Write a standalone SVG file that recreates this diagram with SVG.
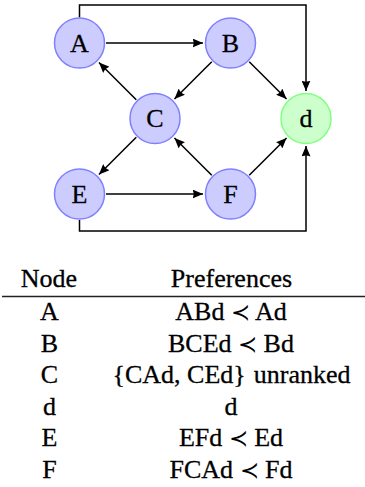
<svg xmlns="http://www.w3.org/2000/svg" width="365" height="487" viewBox="0 0 365 487">
<style>
.node{fill:#ccccff;stroke:#8080ff;stroke-width:1.5}
.dest{fill:#ccffcc;stroke:#80ff80;stroke-width:1.5}
.lbl{font-family:'Liberation Serif','Times New Roman',serif;font-size:26px;text-anchor:middle;fill:#000;stroke:#000;stroke-width:0.3}
.edge{fill:none;stroke:#000;stroke-width:1.5;marker-end:url(#arr)}
.tx{font-family:'Liberation Serif','Times New Roman',serif;font-size:26px;text-anchor:middle;fill:#000;stroke:#000;stroke-width:0.3}
.prec{font-family:'DejaVu Serif',serif;font-size:23px;stroke-width:0}
</style>
<defs>
<marker id="arr" markerUnits="userSpaceOnUse" markerWidth="11" markerHeight="9" refX="10.5" refY="4.5" orient="auto">
<path d="M0,0 L10.5,4.5 L0,9 Q2.2,4.5 0,0 z" fill="#000"/>
</marker>
</defs>
<g id="connectors">
<path class="edge" d="M106,43 L203,43"/>
<path class="edge" d="M106,194 L203,194"/>
<path class="edge" d="M211.76,61.74 L174.45,99.05"/>
<path class="edge" d="M249.24,61.74 L286.55,99.05"/>
<path class="edge" d="M136.26,99.76 L98.95,62.45"/>
<path class="edge" d="M136.26,137.24 L98.95,174.55"/>
<path class="edge" d="M211.76,175.26 L174.45,137.95"/>
<path class="edge" d="M249.24,175.26 L286.55,137.95"/>
<path class="edge" d="M79.5,17.5 V5 H306 V91"/>
<path class="edge" d="M79.5,220 V231 H306 V146"/>
</g>
<g id="node-A"><circle class="node" cx="79.5" cy="43" r="25"/><text class="lbl" x="79.5" y="51.7">A</text></g>
<g id="node-B"><circle class="node" cx="230.5" cy="43" r="25"/><text class="lbl" x="230.5" y="51.7">B</text></g>
<g id="node-C"><circle class="node" cx="155" cy="118.5" r="25"/><text class="lbl" x="155" y="127.2">C</text></g>
<g id="node-d"><circle class="dest" cx="306" cy="118.5" r="25"/><text class="lbl" x="306" y="127.4">d</text></g>
<g id="node-E"><circle class="node" cx="79.5" cy="194" r="25"/><text class="lbl" x="79.5" y="202.7">E</text></g>
<g id="node-F"><circle class="node" cx="230.5" cy="194" r="25"/><text class="lbl" x="230.5" y="202.7">F</text></g>
<g id="table">
<text class="tx" x="49" y="287">Node</text>
<text class="tx" x="231.5" y="287">Preferences</text>
<line x1="2" y1="296.5" x2="365" y2="296.5" stroke="#222" stroke-width="1.3"/>
<text class="tx" x="49.5" y="320">A</text>
<text class="tx" x="231" y="320">ABd <tspan class="prec">≺</tspan> Ad</text>
<text class="tx" x="49.5" y="351.6">B</text>
<text class="tx" x="231" y="351.6">BCEd <tspan class="prec">≺</tspan> Bd</text>
<text class="tx" x="49.5" y="383.2">C</text>
<text class="tx" x="231.5" y="383.2">{CAd, CEd}<tspan dx="8">unranked</tspan></text>
<text class="tx" x="49.5" y="414.8">d</text>
<text class="tx" x="231" y="414.8">d</text>
<text class="tx" x="49.5" y="446.4">E</text>
<text class="tx" x="231" y="446.4">EFd <tspan class="prec">≺</tspan> Ed</text>
<text class="tx" x="49.5" y="478">F</text>
<text class="tx" x="231" y="478">FCAd <tspan class="prec">≺</tspan> Fd</text>
</g>
</svg>
